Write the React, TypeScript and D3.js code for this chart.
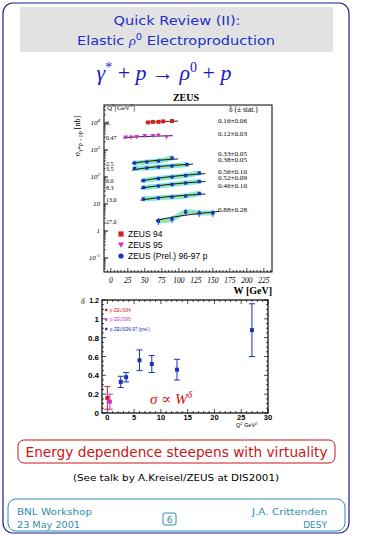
import React from 'react';
import * as d3 from 'd3';

// ---------- data ----------
const Q2_LABELS = ['0.', '0.47', '2.5', '3.5', '6.0', '8.3', '13.0', '27.0'];
const DELTA_TEXT = ['0.16±0.06', '0.12±0.03', '0.33±0.05', '0.38±0.05', '0.56±0.10', '0.52±0.09', '0.46±0.10', '0.88±0.28'];
const DELTAS = [0.16, 0.12, 0.33, 0.38, 0.56, 0.52, 0.46, 0.88];
const DELTA_ERR = [0.12, 0.08, 0.06, 0.05, 0.11, 0.09, 0.11, 0.28];
const Q2_VALUES = [0, 0.47, 2.5, 3.5, 6.0, 8.3, 13.0, 27.0];
const SERIES_SET = ['94', '95', '97', '97', '97', '97', '97', '97'];
const W_VALUES = [
  [55, 62, 70, 77, 90],
  [22, 30, 38, 50, 62, 70, 82],
  [35, 53, 70, 90],
  [35, 53, 70, 90, 112],
  [48, 70, 90, 110, 130],
  [48, 70, 90, 110, 130],
  [48, 70, 90, 110, 130],
  [70, 90, 110, 130, 150],
];
const SIGMA_VALUES = [
  [10500, 11000, 11000, 11500, 11800],
  [2900, 2900, 3030, 3300, 3300, 3440, 3030],
  [330, 360, 392, 506],
  [207, 215, 234, 255, 290],
  [74, 88, 100, 114, 141],
  [40.8, 46.4, 52.7, 60, 68],
  [15.3, 16.7, 18.2, 19.8, 24.5],
  [2.34, 2.78, 5.06, 4.64, 4.64],
];
const SIGMA_REL_ERR = [0.04, 0.05, 0.06, 0.06, 0.08, 0.08, 0.1, 0.3];
const W_TICKS = [0, 25, 50, 75, 100, 125, 150, 175, 200, 225];
const LOG_TICKS = [4, 3, 2, 1, 0, -1];
const D_TICKS = [0, 0.2, 0.4, 0.6, 0.8, 1, 1.2];
const Q_TICKS = [0, 5, 10, 15, 20, 25, 30];
const LEGEND_UP = ['ZEUS 94', 'ZEUS 95', 'ZEUS (Prel.) 96-97 p'];
const LEGEND_LOW = ['ρ ZEUS94', 'ρ ZEUS95', 'ρ ZEUS96-97 (prel.)'];

const COL = { '94': '#d42020', '95': '#cc33cc', '97': '#2030b8' } as Record<string, string>;
const BLUE = '#1c1c90';
const TITLE_BLUE = '#2030c8';
const RED = '#cc1515';
const TEAL = '#2f8cae';

// ---------- scales ----------
const ux = d3.scaleLinear().domain([-10, 237]).range([104, 272]);
const uy = d3.scaleLog().domain([Math.pow(10, -1.5185), Math.pow(10, 4.6667)]).range([272, 105]);
const lx = d3.scaleLinear().domain([-1, 30]).range([102, 268]);
const ly = d3.scaleLinear().domain([0, 1.2]).range([413, 300]);

const serif = '"Liberation Serif", "DejaVu Serif", serif';
const sans = '"Liberation Sans", Arial, sans-serif';
const vsans = '"DejaVu Sans", Verdana, sans-serif';

function Marker({ set, x, y, s = 2.2 }: { set: string; x: number; y: number; s?: number }) {
  const c = COL[set];
  if (set === '94') return <rect x={x - s} y={y - s} width={2 * s} height={2 * s} fill={c} />;
  if (set === '95') return <path d={`M${x - s * 1.2},${y - s} L${x + s * 1.2},${y - s} L${x},${y + s * 1.1} Z`} fill={c} />;
  return <rect x={x - s * 0.9} y={y - s * 0.9} width={2 * s * 0.9} height={2 * s * 0.9} fill={c} />;
}

function UpperPlot() {
  const line = d3.line<[number, number]>().x(d => ux(d[0])).y(d => uy(d[1]));
  const band = d3.line<[number, number]>().x(d => ux(d[0])).y(d => uy(d[1])).curve(d3.curveCatmullRom);
  const els: React.ReactNode[] = [];
  W_VALUES.forEach((ws, i) => {
    const sig = SIGMA_VALUES[i];
    const dlt = DELTAS[i];
    const lnA = d3.mean(ws.map((w, j) => Math.log(sig[j]) - dlt * Math.log(w)))!;
    const w0 = ws[0] - 4, w1 = ws[ws.length - 1] + 9;
    const pts: [number, number][] = d3.range(0, 21).map(k => {
      const w = w0 + (w1 - w0) * k / 20;
      return [w, Math.exp(lnA + dlt * Math.log(w))];
    });
    const data: [number, number][] = ws.map((w, j) => [w, sig[j]]);
    if (i >= 2) {
      els.push(<path key={'b' + i} d={band(data)!} fill="none" stroke="#80e6f2" strokeWidth={5} strokeLinecap="round" />);
      els.push(<path key={'g' + i} d={band(data)!} fill="none" stroke="#b4dc3c" strokeWidth={1.3} />);
    }
    els.push(<path key={'l' + i} d={line(pts)!} fill="none" stroke="#000" strokeWidth={0.9} />);
    data.forEach((d, j) => {
      const e = SIGMA_REL_ERR[i];
      els.push(<line key={`e${i}-${j}`} x1={ux(d[0])} x2={ux(d[0])} y1={uy(d[1] * (1 + e))} y2={uy(d[1] * (1 - e))} stroke={COL[SERIES_SET[i]]} strokeWidth={0.8} />);
      els.push(<Marker key={`m${i}-${j}`} set={SERIES_SET[i]} x={ux(d[0])} y={uy(d[1])} s={i < 2 ? 2 : 1.8} />);
    });
    els.push(
      <text key={'q' + i} x={106} y={uy(sig[0]) + 2.5} fontFamily={serif} fontSize={6} fill="#000">{Q2_LABELS[i]}</text>
    );
  });
  const deltaY = [121, 134, 154, 160, 172, 178, 186, 210];
  const yb = 272;
  const minor: number[] = [];
  for (let e = -2; e <= 4; e++) for (let m = 2; m <= 9; m++) {
    const v = m * Math.pow(10, e);
    if (v > uy.domain()[0] && v < uy.domain()[1]) minor.push(v);
  }
  return (
    <g>
      <text x={186} y={101} textAnchor="middle" fontFamily={serif} fontWeight="bold" fontSize={10}>ZEUS</text>
      <rect x={104} y={105} width={168} height={167} fill="none" stroke="#000" strokeWidth={1} />
      {LOG_TICKS.map(e => (
        <g key={e}>
          <line x1={104} x2={108} y1={uy(Math.pow(10, e))} y2={uy(Math.pow(10, e))} stroke="#000" />
          <text x={100} y={uy(Math.pow(10, e)) + 2} textAnchor="end" fontFamily={serif} fontStyle="italic" fontSize={7}>
            {e === 0 ? '1' : '10'}
            {e !== 0 && e !== 1 ? <tspan dy={-3} fontSize={5}>{e}</tspan> : null}
          </text>
        </g>
      ))}
      {minor.map((v, k) => <line key={k} x1={104} x2={106} y1={uy(v)} y2={uy(v)} stroke="#000" strokeWidth={0.6} />)}
      {d3.range(-5, 236, 5).map(w => (
        <line key={w} x1={ux(w)} x2={ux(w)} y1={yb} y2={yb - (w % 25 === 0 ? 4 : 2)} stroke="#000" strokeWidth={0.7} />
      ))}
      {W_TICKS.map(w => (
        <text key={w} x={ux(w)} y={283} textAnchor="middle" fontFamily={serif} fontStyle="italic" fontSize={7.5}>{w}</text>
      ))}
      <text x={272} y={294} textAnchor="end" fontFamily={serif} fontWeight="bold" fontSize={10}>W [GeV]</text>
      <text transform="translate(80,136) rotate(-90)" textAnchor="middle" fontFamily={serif} fontSize={8}>
        σ<tspan dy={2} fontSize={6}>γ*p→ρp</tspan><tspan dy={-2}> [nb]</tspan>
      </text>
      <text x={107} y={110} fontFamily={serif} fontSize={7}>Q<tspan dy={-3} fontSize={5}>2</tspan><tspan dy={3}>[GeV</tspan><tspan dy={-3} fontSize={5}>2</tspan><tspan dy={3}>]</tspan></text>
      <text x={229} y={112} fontFamily={serif} fontSize={7.5}>δ  (± stat.)</text>
      {DELTA_TEXT.map((t, i) => (
        <text key={t} x={218} y={deltaY[i] + 2.2} fontFamily={serif} fontSize={6.5} textLength={29} lengthAdjust="spacingAndGlyphs">{t}</text>
      ))}
      {els}
      {LEGEND_UP.map((t, i) => {
        const y = 234 + i * 11;
        const set = ['94', '95', '97'][i];
        return (
          <g key={t}>
            {i === 2 ? <circle cx={121} cy={y} r={2.6} fill={COL[set]} /> : <Marker set={set} x={121} y={y} s={2.6} />}
            <text x={128} y={y + 3} fontFamily={sans} fontSize={8.5}>{t}</text>
          </g>
        );
      })}
    </g>
  );
}

function LowerPlot() {
  const sets = ['94', '95', '97', '97', '97', '97', '97', '97'];
  return (
    <g>
      <rect x={102} y={300} width={166} height={113} fill="none" stroke="#000" strokeWidth={1.2} />
      {d3.range(0, 31, 1).map(q => (
        <g key={q}>
          <line x1={lx(q)} x2={lx(q)} y1={413} y2={413 - (q % 5 === 0 ? 4 : 2)} stroke="#000" strokeWidth={0.7} />
          <line x1={lx(q)} x2={lx(q)} y1={300} y2={300 + (q % 5 === 0 ? 4 : 2)} stroke="#000" strokeWidth={0.7} />
        </g>
      ))}
      {d3.range(0, 1.201, 0.05).map((v, k) => (
        <g key={k}>
          <line x1={102} x2={102 + (k % 4 === 0 ? 4 : 2)} y1={ly(v)} y2={ly(v)} stroke="#000" strokeWidth={0.7} />
          <line x1={268} x2={268 - (k % 4 === 0 ? 4 : 2)} y1={ly(v)} y2={ly(v)} stroke="#000" strokeWidth={0.7} />
        </g>
      ))}
      {D_TICKS.map(v => (
        <text key={v} x={99} y={ly(v) + 3} textAnchor="end" fontFamily={sans} fontWeight="bold" fontSize={v === 1.2 ? 7 : 8}>{String(v)}</text>
      ))}
      <text x={81} y={304} fontFamily={serif} fontStyle="italic" fontSize={8}>δ</text>
      {Q_TICKS.map(q => (
        <text key={q} x={lx(q)} y={420} textAnchor="middle" fontFamily={sans} fontWeight="bold" fontSize={7.5}>{q}</text>
      ))}
      <text x={236} y={427} fontFamily={sans} fontSize={5.5}>Q<tspan dy={-2} fontSize={4}>2</tspan><tspan dy={2}> GeV</tspan><tspan dy={-2} fontSize={4}>2</tspan></text>
      {LEGEND_LOW.map((t, i) => {
        const y = 310 + i * 9.5;
        const c = COL[['94', '95', '97'][i]];
        return (
          <g key={t}>
            <rect x={105} y={y - 1.2} width={2.4} height={2.4} fill={c} />
            <text x={110} y={y + 1.6} fontFamily={sans} fontSize={4.5} fill={c}>{t}</text>
          </g>
        );
      })}
      {Q2_VALUES.map((q, i) => {
        const c = COL[sets[i]];
        const x = lx(q);
        const y0 = ly(DELTAS[i] - DELTA_ERR[i]);
        const y1 = ly(DELTAS[i] + DELTA_ERR[i]);
        return (
          <g key={i} stroke={c} strokeWidth={1}>
            <line x1={x} x2={x} y1={y0} y2={y1} />
            <line x1={x - 3} x2={x + 3} y1={y0} y2={y0} />
            <line x1={x - 3} x2={x + 3} y1={y1} y2={y1} />
            <rect x={x - 2} y={ly(DELTAS[i]) - 2} width={4} height={4} fill={c} stroke="none" />
          </g>
        );
      })}
      <text x={150} y={404} fontFamily={serif} fontStyle="italic" fontSize={15} fill={RED}>
        σ ∝ W<tspan dy={-6} fontSize={10}>δ</tspan>
      </text>
    </g>
  );
}

export default function App() {
  return (
    <svg width={365} height={535} viewBox="0 0 365 535" style={{ position: 'absolute', left: 0, top: 0, background: '#fff' }}>
      <rect x={0} y={0} width={365} height={535} fill="#fff" />
      <rect x={3} y={3} width={346} height={530} rx={10} fill="none" stroke={BLUE} strokeWidth={1.2} />
      <rect x={20} y={7} width={313} height={45} fill="#e2e2e2" />
      <text x={177} y={25} textAnchor="middle" fontFamily={vsans} fontSize={13} fill={TITLE_BLUE} textLength={127} lengthAdjust="spacingAndGlyphs">Quick Review (II):</text>
      <text x={176} y={45} textAnchor="middle" fontFamily={vsans} fontSize={13} fill={TITLE_BLUE} textLength={198} lengthAdjust="spacingAndGlyphs">
        Elastic <tspan fontFamily={serif} fontStyle="italic">ρ</tspan><tspan dy={-5} fontSize={9}>0</tspan><tspan dy={5}> Electroproduction</tspan>
      </text>
      <text x={164} y={80} textAnchor="middle" fontFamily={serif} fontSize={22} fill="#1818c8">
        <tspan fontStyle="italic">γ</tspan><tspan dy={-8} fontSize={14}>*</tspan><tspan dy={8}> + </tspan><tspan fontStyle="italic">p</tspan> → <tspan fontStyle="italic">ρ</tspan><tspan dy={-8} fontSize={14}>0</tspan><tspan dy={8}> + </tspan><tspan fontStyle="italic">p</tspan>
      </text>
      <UpperPlot />
      <LowerPlot />
      <rect x={18} y={440} width={317} height={23} rx={6} fill="none" stroke={RED} strokeWidth={1} />
      <text x={176.5} y={457} textAnchor="middle" fontFamily={vsans} fontSize={13.5} fill={RED} textLength={302} lengthAdjust="spacingAndGlyphs">Energy dependence steepens with virtuality</text>
      <text x={176} y={481} textAnchor="middle" fontFamily={vsans} fontSize={9.5} fill="#000" textLength={206} lengthAdjust="spacingAndGlyphs">(See talk by A.Kreisel/ZEUS at DIS2001)</text>
      <rect x={8} y={499} width={337} height={32} rx={8} fill="none" stroke={TEAL} strokeWidth={1} />
      <text x={17} y={515} fontFamily={vsans} fontSize={9} fill={TEAL} textLength={75} lengthAdjust="spacingAndGlyphs">BNL Workshop</text>
      <text x={17} y={528} fontFamily={vsans} fontSize={9} fill={TEAL} textLength={63} lengthAdjust="spacingAndGlyphs">23 May 2001</text>
      <text x={327} y={515} textAnchor="end" fontFamily={vsans} fontSize={9} fill={TEAL} textLength={75} lengthAdjust="spacingAndGlyphs">J.A. Crittenden</text>
      <text x={327} y={528} textAnchor="end" fontFamily={vsans} fontSize={9} fill={TEAL}>DESY</text>
      <rect x={163} y={513} width={13} height={12} rx={2} fill="none" stroke={TEAL} strokeWidth={1} />
      <text x={169.5} y={522.5} textAnchor="middle" fontFamily={vsans} fontSize={9} fill={TEAL}>6</text>
    </svg>
  );
}
